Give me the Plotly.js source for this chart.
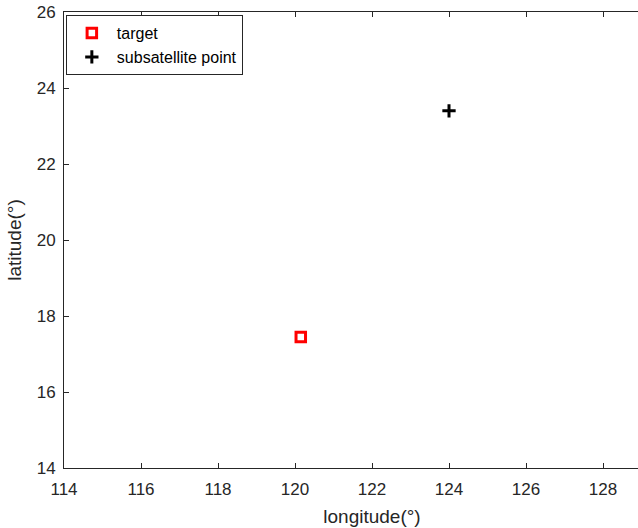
<!DOCTYPE html>
<html>
<head>
<meta charset="utf-8">
<script src="https://cdn.plot.ly/plotly-3.0.1.min.js"></script>
<style>html,body{margin:0;padding:0;overflow:hidden;background:#fff;}</style>
</head>
<body>
<div id="chart"></div>
<script>
const targetLon = [120.15];
const targetLat = [17.45];
const subLon = [124.0];
const subLat = [23.4];
const xTicks = [114, 116, 118, 120, 122, 124, 126, 128];
const yTicks = [14, 16, 18, 20, 22, 24, 26];

const axisColor = '#262626';
const fam = 'Liberation Sans, Arial, sans-serif';
const font = {family: fam, size: 17, color: axisColor};

const data = [
  {x: targetLon, y: targetLat, name: 'target', mode: 'markers', type: 'scatter',
   marker: {symbol: 'square-open', size: 9.5, color: '#ff0000', line: {width: 3, color: '#ff0000'}}},
  {x: subLon, y: subLat, name: 'subsatellite point', mode: 'markers', type: 'scatter',
   marker: {symbol: 'cross-thin-open', size: 9.5, color: '#000000', line: {width: 3, color: '#000000'}}}
];

const axBase = {
  showgrid: false, zeroline: false, showline: true, linecolor: axisColor, linewidth: 1,
  ticks: 'inside', ticklen: 5, tickcolor: axisColor, mirror: 'ticks',
  tickfont: font
};

const layout = {
  width: 700, height: 528,
  margin: {l: 64, r: 20, t: 12, b: 60},
  paper_bgcolor: '#fff', plot_bgcolor: '#fff',
  font: font,
  showlegend: true,
  legend: {x: 0.003, y: 0.993, xanchor: 'left', yanchor: 'top', bgcolor: '#fff',
           bordercolor: axisColor, borderwidth: 1, itemwidth: 40,
           font: {family: fam, size: 16, color: '#000'}, tracegroupgap: 0},
  xaxis: Object.assign({}, axBase, {range: [114, 130], tickvals: xTicks, ticklabelstandoff: 6,
           title: {text: 'longitude(°)', font: {family: fam, size: 19, color: axisColor}, standoff: 11}}),
  yaxis: Object.assign({}, axBase, {range: [14, 26], tickvals: yTicks, ticklabelstandoff: 4,
           title: {text: 'latitude(°)', font: {family: fam, size: 19, color: axisColor}, standoff: 10}})
};

Plotly.newPlot('chart', data, layout, {displayModeBar: false, staticPlot: true});
</script>
</body>
</html>
